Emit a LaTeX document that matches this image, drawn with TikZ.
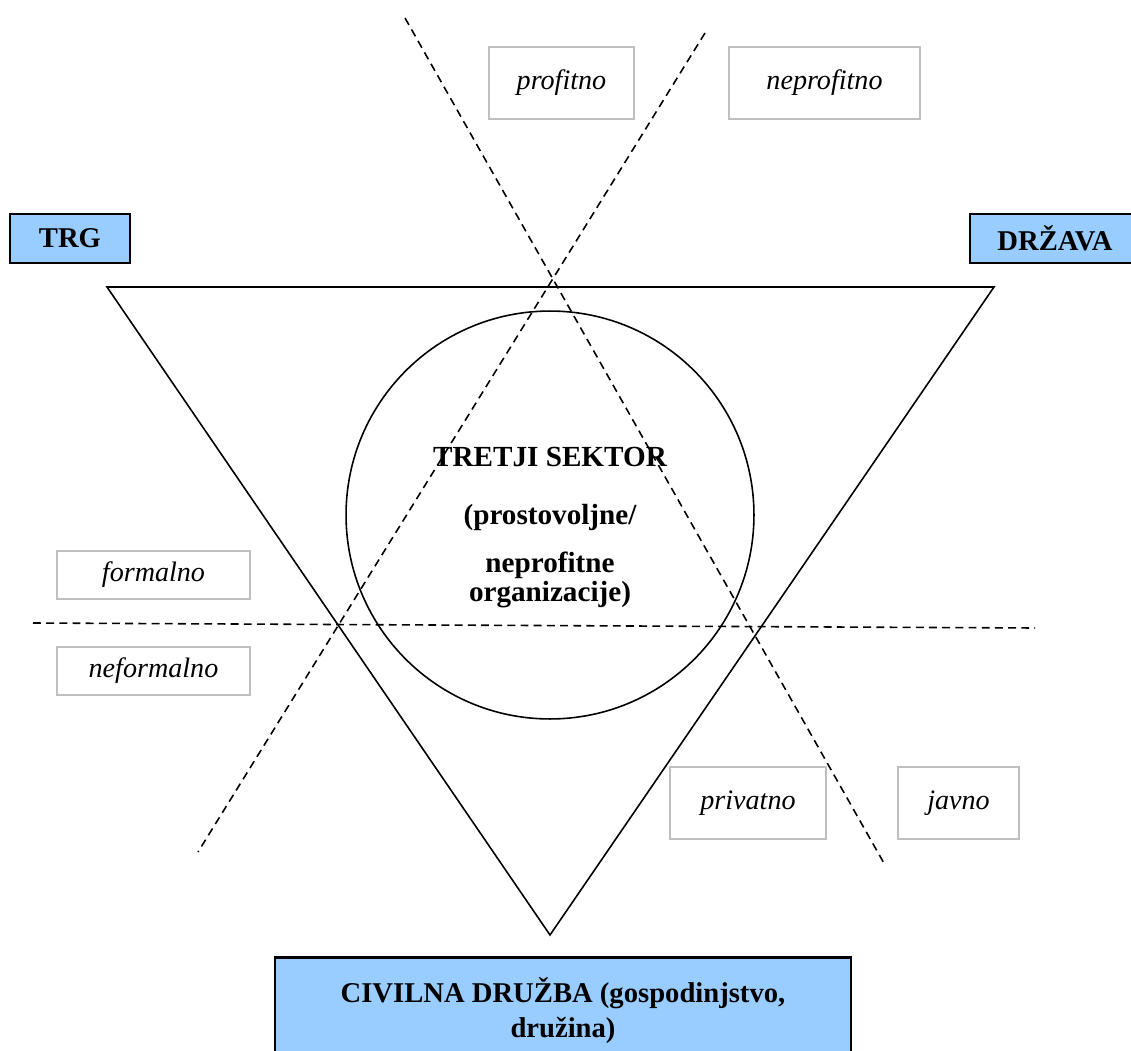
\documentclass[tikz,border=0pt]{standalone}
\usepackage{fontspec}
\setmainfont{Liberation Serif}
\definecolor{skyblue}{RGB}{153,204,255}

\begin{document}
\begin{tikzpicture}
    [
      x=0.02cm, y=-0.02cm,
      sector/.style={draw=black,fill=skyblue,line width=1.2pt,inner sep=0pt,
        font=\bfseries\fontsize{16.3}{20}\selectfont},
      side/.style={draw=black!25,line width=1pt,inner sep=0pt,
        font=\itshape\fontsize{16}{19}\selectfont},
      divide/.style={line width=0.9pt,dash pattern=on 4.5pt off 3pt}
    ]

    \useasboundingbox (0,0) rectangle (1131,1050);
    \clip (0,0) rectangle (1131,1050);

    % the three sectors
    \node at (70,238.5) [sector,minimum width=2.4cm,minimum height=0.98cm] (market) {TRG};
    \node at (1055,238.5) [sector,minimum width=3.4cm,minimum height=0.98cm] (state) {DRŽAVA};
    \node at (563,1011) [sector,minimum width=11.52cm,minimum height=2.14cm,
      align=center] (civil) {CIVILNA DRUŽBA (gospodinjstvo,\\družina)};

    \coordinate (top left) at (107,287);
    \coordinate (top right) at (994,287);
    \coordinate (bottom) at (550,935);
    \draw [line width=0.9pt] (top left) -- (top right) -- (bottom) -- cycle;

    \node at (550,515) [circle,draw,line width=0.9pt,minimum size=8.16cm,
      inner sep=0pt] (ring) {};

    % dividing lines
    \coordinate (a1) at (405,18);
    \coordinate (a2) at (885,865);
    \coordinate (b1) at (705,33);
    \coordinate (b2) at (198,852);
    \coordinate (c1) at (33,623);
    \coordinate (c2) at (1035,628);
    \draw [divide] (a1) -- (a2);
    \draw [divide] (b1) -- (b2);
    \draw [divide] (c1) -- (c2);

    \node at (550,447) [anchor=north,align=center,inner sep=0pt,
      font=\bfseries\fontsize{16.6}{17}\selectfont] (third) {
      TRETJI SEKTOR\\[16pt](prostovoljne/\\[10pt]neprofitne\\organizacije)
    };

    \node at (561.5,83) [side,minimum width=2.9cm,minimum height=1.44cm] (profit) {profitno};
    \node at (824.5,83) [side,minimum width=3.82cm,minimum height=1.44cm] (nonprofit) {neprofitno};
    \node at (153.5,575) [side,minimum width=3.86cm,minimum height=0.96cm] (formal) {formalno};
    \node at (153.5,671) [side,minimum width=3.86cm,minimum height=0.96cm] (informal) {neformalno};
    \node at (748,803) [side,minimum width=3.12cm,minimum height=1.44cm] (private) {privatno};
    \node at (958.5,803) [side,minimum width=2.42cm,minimum height=1.44cm] (public) {javno};
  \end{tikzpicture}
\end{document}
